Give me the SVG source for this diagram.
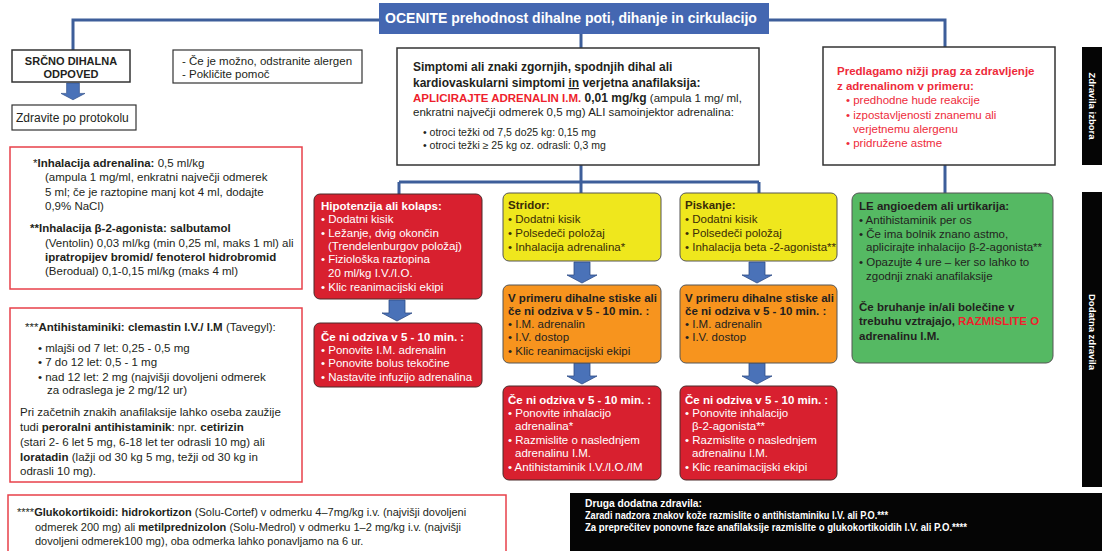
<svg xmlns="http://www.w3.org/2000/svg" width="1102" height="551" viewBox="0 0 1102 551">
<defs>
<style>
text{font-family:"Liberation Sans",Arial,sans-serif;font-size:11.5px;fill:#231f20}
.b{font-weight:bold}
.w{fill:#fff}
.r{fill:#ee1f2d}
.pr{fill:#ee2b3b}
.s12{font-size:12px}
.s105{font-size:10.5px}
.s11{font-size:11px}
.dk{fill:#3a2c08}
.conn{fill:none;stroke:#3d5e9a;stroke-width:3}
.box{fill:#fff;stroke:#333;stroke-width:1.5}
.note{fill:#fff;stroke:#e8404a;stroke-width:1.5}
.red{fill:#d8202f;stroke:#4a2a2a;stroke-width:1}
.yel{fill:#efe71d;stroke:#555;stroke-width:1}
.org{fill:#f7941e;stroke:#555;stroke-width:1}
.grn{fill:#55b963;stroke:#555;stroke-width:1}
.bar{fill:#050505}
.arr{fill:#4a72b8;stroke:#2e4d86;stroke-width:0.8}
.bk{font-size:10.8px;font-weight:bold;fill:#fff}
</style>
<path id="ar" d="M-8,0 H8 V13 H15 L0,21 L-15,13 H-8 Z"/>
</defs>
<rect width="1102" height="551" fill="#fff"/>

<g id="connectors">
<path class="conn" d="M379,20 H73 V50"/>
<path class="conn" d="M769,20 H945 V47"/>
<path class="conn" d="M581,34 V48"/>
<path class="conn" d="M581,165 V193"/>
<path class="conn" d="M399,182 H759"/>
<path class="conn" d="M399,182 V194"/>
<path class="conn" d="M759,182 V193"/>
<path class="conn" d="M945,165 V193"/>
<use href="#ar" class="arr" transform="translate(73,83) scale(0.8)"/>
<use href="#ar" class="arr" transform="translate(397,300)"/>
<use href="#ar" class="arr" transform="translate(582,262)"/>
<use href="#ar" class="arr" transform="translate(582,363)"/>
<use href="#ar" class="arr" transform="translate(757,262)"/>
<use href="#ar" class="arr" transform="translate(757,363)"/>
</g>

<g id="header">
<rect x="379" y="3" width="390" height="31" fill="#4467b1"/>
<text x="571" y="23" text-anchor="middle" class="b w" style="font-size:14px">OCENITE prehodnost dihalne poti, dihanje in cirkulacijo</text>
</g>

<g id="srcno">
<rect class="box" x="12" y="50" width="118" height="32"/>
<text x="71" y="65" text-anchor="middle" class="b s11">SRČNO DIHALNA</text>
<text x="71" y="78" text-anchor="middle" class="b s11">ODPOVED</text>
</g>

<g id="zdravite">
<rect x="12" y="105" width="124" height="25" fill="#fff" stroke="#333" stroke-width="1.2"/>
<text x="16" y="122" class="s12">Zdravite po protokolu</text>
</g>

<g id="alergen">
<rect x="173" y="50" width="189" height="33" fill="#fff" stroke="#333" stroke-width="1.2"/>
<text x="182" y="65">- Če je možno, odstranite alergen</text>
<text x="182" y="78">- Pokličite pomoč</text>
</g>

<g id="simptomi">
<rect class="box" x="397" y="48" width="362" height="117"/>
<text x="413" y="71" class="b s12">Simptomi ali znaki zgornjih, spodnjih dihal ali</text>
<text x="413" y="87" class="b s12">kardiovaskularni simptomi <tspan text-decoration="underline">in</tspan> verjetna anafilaksija:</text>
<text x="413" y="102"><tspan class="b r" style="font-size:11.5px">APLICIRAJTE ADRENALIN I.M.</tspan><tspan class="b s12"> 0,01 mg/kg</tspan> (ampula 1 mg/ ml,</text>
<text x="413" y="116">enkratni največji odmerek 0,5 mg) ALI samoinjektor adrenalina:</text>
<text x="423" y="136" class="s105">• otroci težki od 7,5 do25 kg: 0,15 mg</text>
<text x="423" y="149" class="s105">• otroci težki ≥ 25 kg oz. odrasli: 0,3 mg</text>
</g>

<g id="predlagamo">
<rect class="box" x="823" y="47" width="232" height="118"/>
<text x="837" y="75" class="b pr">Predlagamo nižji prag za zdravljenje</text>
<text x="837" y="90" class="b pr">z adrenalinom v primeru:</text>
<text x="846" y="104" class="pr">• predhodne hude reakcije</text>
<text x="846" y="119" class="pr">• izpostavljenosti znanemu ali</text>
<text x="853" y="133" class="pr">verjetnemu alergenu</text>
<text x="846" y="147" class="pr">• pridružene astme</text>
</g>

<g id="inhalacija">
<rect class="note" x="10" y="147" width="292" height="142"/>
<text x="33" y="167">*<tspan class="b">Inhalacija adrenalina:</tspan> 0,5 ml/kg</text>
<text x="45" y="181">(ampula 1 mg/ml, enkratni največji odmerek</text>
<text x="45" y="196">5 ml; če je raztopine manj kot 4 ml, dodajte</text>
<text x="45" y="210">0,9% NaCl)</text>
<text x="30" y="232" class="b">**Inhalacija β-2-agonista: salbutamol</text>
<text x="45" y="247">(Ventolin) 0,03 ml/kg (min 0,25 ml, maks 1 ml)  ali</text>
<text x="45" y="261" class="b">ipratropijev bromid/ fenoterol hidrobromid</text>
<text x="45" y="275">(Berodual) 0,1-0,15 ml/kg (maks 4 ml)</text>
</g>

<g id="antihistaminiki">
<rect class="note" x="10" y="308" width="292" height="174"/>
<text x="25" y="331">***<tspan class="b">Antihistaminiki: clemastin I.V./ I.M</tspan> (Tavegyl):</text>
<text x="38" y="352">• mlajši od 7 let: 0,25 - 0,5 mg</text>
<text x="38" y="366">• 7 do 12 let: 0,5 - 1 mg</text>
<text x="38" y="381">• nad 12 let: 2 mg  (najvišji dovoljeni odmerek</text>
<text x="47" y="394">za odraslega je 2 mg/12 ur)</text>
<text x="20" y="416">Pri začetnih znakih anafilaksije lahko oseba zaužije</text>
<text x="20" y="431">tudi <tspan class="b">peroralni antihistaminik</tspan>: npr. <tspan class="b">cetirizin</tspan></text>
<text x="20" y="446">(stari 2- 6 let 5 mg, 6-18 let ter odrasli 10 mg) ali</text>
<text x="20" y="461"><tspan class="b">loratadin</tspan> (lažji od 30 kg 5 mg, težji od 30 kg in</text>
<text x="20" y="475">odrasli 10 mg).</text>
</g>

<g id="glukokortikoidi">
<rect class="note" x="8" y="495" width="498" height="70"/>
<text x="17" y="516" class="s11">****<tspan class="b">Glukokortikoidi: hidrokortizon</tspan> (Solu-Cortef) v odmerku 4–7mg/kg i.v. (najvišji  dovoljeni</text>
<text x="35" y="531" class="s11">odmerek 200 mg) ali <tspan class="b">metilprednizolon</tspan> (Solu-Medrol) v odmerku 1–2 mg/kg i.v. (najvišji</text>
<text x="35" y="545" class="s11">dovoljeni odmerek100 mg), oba odmerka lahko ponavljamo na 6 ur.</text>
</g>

<g id="druga">
<rect class="bar" x="570" y="493" width="540" height="60"/>
<text x="585" y="507" class="bk" textLength="117" lengthAdjust="spacingAndGlyphs">Druga dodatna zdravila:</text>
<text x="585" y="519" class="bk" textLength="303" lengthAdjust="spacingAndGlyphs">Zaradi nadzora znakov kože razmislite o antihistaminiku I.V. ali P.O.***</text>
<text x="585" y="531" class="bk" textLength="382" lengthAdjust="spacingAndGlyphs">Za preprečitev ponovne faze anafilaksije razmislite o glukokortikoidih I.V. ali P.O.****</text>
</g>

<g id="hipotenzija">
<rect class="red" x="314" y="194" width="168" height="105" rx="6"/>
<text x="321" y="210" class="b w">Hipotenzija ali kolaps:</text>
<text x="321" y="223" class="w">• Dodatni kisik</text>
<text x="321" y="237" class="w">• Ležanje, dvig okončin</text>
<text x="328" y="250" class="w">(Trendelenburgov položaj)</text>
<text x="321" y="263" class="w">• Fiziološka raztopina</text>
<text x="328" y="277" class="w">20 ml/kg I.V./I.O.</text>
<text x="321" y="291" class="w">• Klic reanimacijski ekipi</text>
</g>

<g id="hipo-odziv">
<rect class="red" x="314" y="323" width="168" height="64" rx="6"/>
<text x="321" y="341" class="b w">Če ni odziva v 5 - 10 min. :</text>
<text x="321" y="354" class="w">• Ponovite I.M. adrenalin</text>
<text x="321" y="367" class="w">• Ponovite bolus tekočine</text>
<text x="321" y="381" class="w">• Nastavite infuzijo adrenalina</text>
</g>

<g id="stridor">
<rect class="yel" x="503" y="193" width="158" height="68" rx="6"/>
<text x="508" y="209" class="b dk">Stridor:</text>
<text x="508" y="223" class="dk">• Dodatni kisik</text>
<text x="508" y="237" class="dk">• Polsedeči položaj</text>
<text x="508" y="251" class="dk">• Inhalacija adrenalina*</text>
</g>

<g id="stridor-stiska">
<rect class="org" x="503" y="285" width="158" height="78" rx="6"/>
<text x="508" y="302" class="b">V primeru dihalne stiske ali</text>
<text x="508" y="315" class="b">če ni odziva v 5 - 10 min. :</text>
<text x="508" y="328">• I.M. adrenalin</text>
<text x="508" y="341">• I.V. dostop</text>
<text x="508" y="355">• Klic reanimacijski ekipi</text>
</g>

<g id="stridor-odziv">
<rect class="red" x="503" y="386" width="158" height="94" rx="6"/>
<text x="508" y="404" class="b w">Če ni odziva v 5 - 10 min. :</text>
<text x="508" y="417" class="w">• Ponovite inhalacijo</text>
<text x="515" y="430" class="w">adrenalina*</text>
<text x="508" y="444" class="w">• Razmislite o naslednjem</text>
<text x="515" y="457" class="w">adrenalinu I.M.</text>
<text x="508" y="471" class="w">• Antihistaminik I.V./I.O./IM</text>
</g>

<g id="piskanje">
<rect class="yel" x="680" y="193" width="157" height="68" rx="6"/>
<text x="685" y="209" class="b dk">Piskanje:</text>
<text x="685" y="223" class="dk">• Dodatni kisik</text>
<text x="685" y="237" class="dk">• Polsedeči položaj</text>
<text x="685" y="251" class="dk">• Inhalacija beta -2-agonista**</text>
</g>

<g id="piskanje-stiska">
<rect class="org" x="680" y="285" width="157" height="78" rx="6"/>
<text x="685" y="302" class="b">V primeru dihalne stiske ali</text>
<text x="685" y="315" class="b">če ni odziva v 5 - 10 min. :</text>
<text x="685" y="328">• I.M. adrenalin</text>
<text x="685" y="341">• I.V. dostop</text>
</g>

<g id="piskanje-odziv">
<rect class="red" x="680" y="386" width="157" height="94" rx="6"/>
<text x="685" y="404" class="b w">Če ni odziva v 5 - 10 min. :</text>
<text x="685" y="417" class="w">• Ponovite inhalacijo</text>
<text x="692" y="430" class="w">β-2-agonista**</text>
<text x="685" y="444" class="w">• Razmislite o naslednjem</text>
<text x="692" y="457" class="w">adrenalinu I.M.</text>
<text x="685" y="471" class="w">• Klic reanimacijski ekipi</text>
</g>

<g id="angioedem">
<rect class="grn" x="852" y="193" width="201" height="170" rx="7"/>
<text x="859" y="210" class="b">LE angioedem ali urtikarija:</text>
<text x="859" y="224">• Antihistaminik per os</text>
<text x="859" y="238">• Če ima bolnik znano astmo,</text>
<text x="866" y="251">aplicirajte inhalacijo β-2-agonista**</text>
<text x="859" y="266">• Opazujte 4 ure – ker so lahko to</text>
<text x="866" y="280">zgodnji znaki anafilaksije</text>
<text x="859" y="311" class="b">Če bruhanje in/ali bolečine v</text>
<text x="859" y="325" class="b">trebuhu vztrajajo, <tspan class="r">RAZMISLITE O</tspan></text>
<text x="859" y="340" class="b">adrenalinu I.M.</text>
</g>

<g id="bar-izbora">
<rect class="bar" x="1082" y="47" width="20" height="118"/>
<text transform="translate(1089,106) rotate(90)" text-anchor="middle" class="b w" style="font-size:9.5px">Zdravila izbora</text>
</g>
<g id="bar-dodatna">
<rect class="bar" x="1082" y="192" width="20" height="295"/>
<text transform="translate(1089,332) rotate(90)" text-anchor="middle" class="b w" style="font-size:9.5px">Dodatna zdravila</text>
</g>
</svg>
